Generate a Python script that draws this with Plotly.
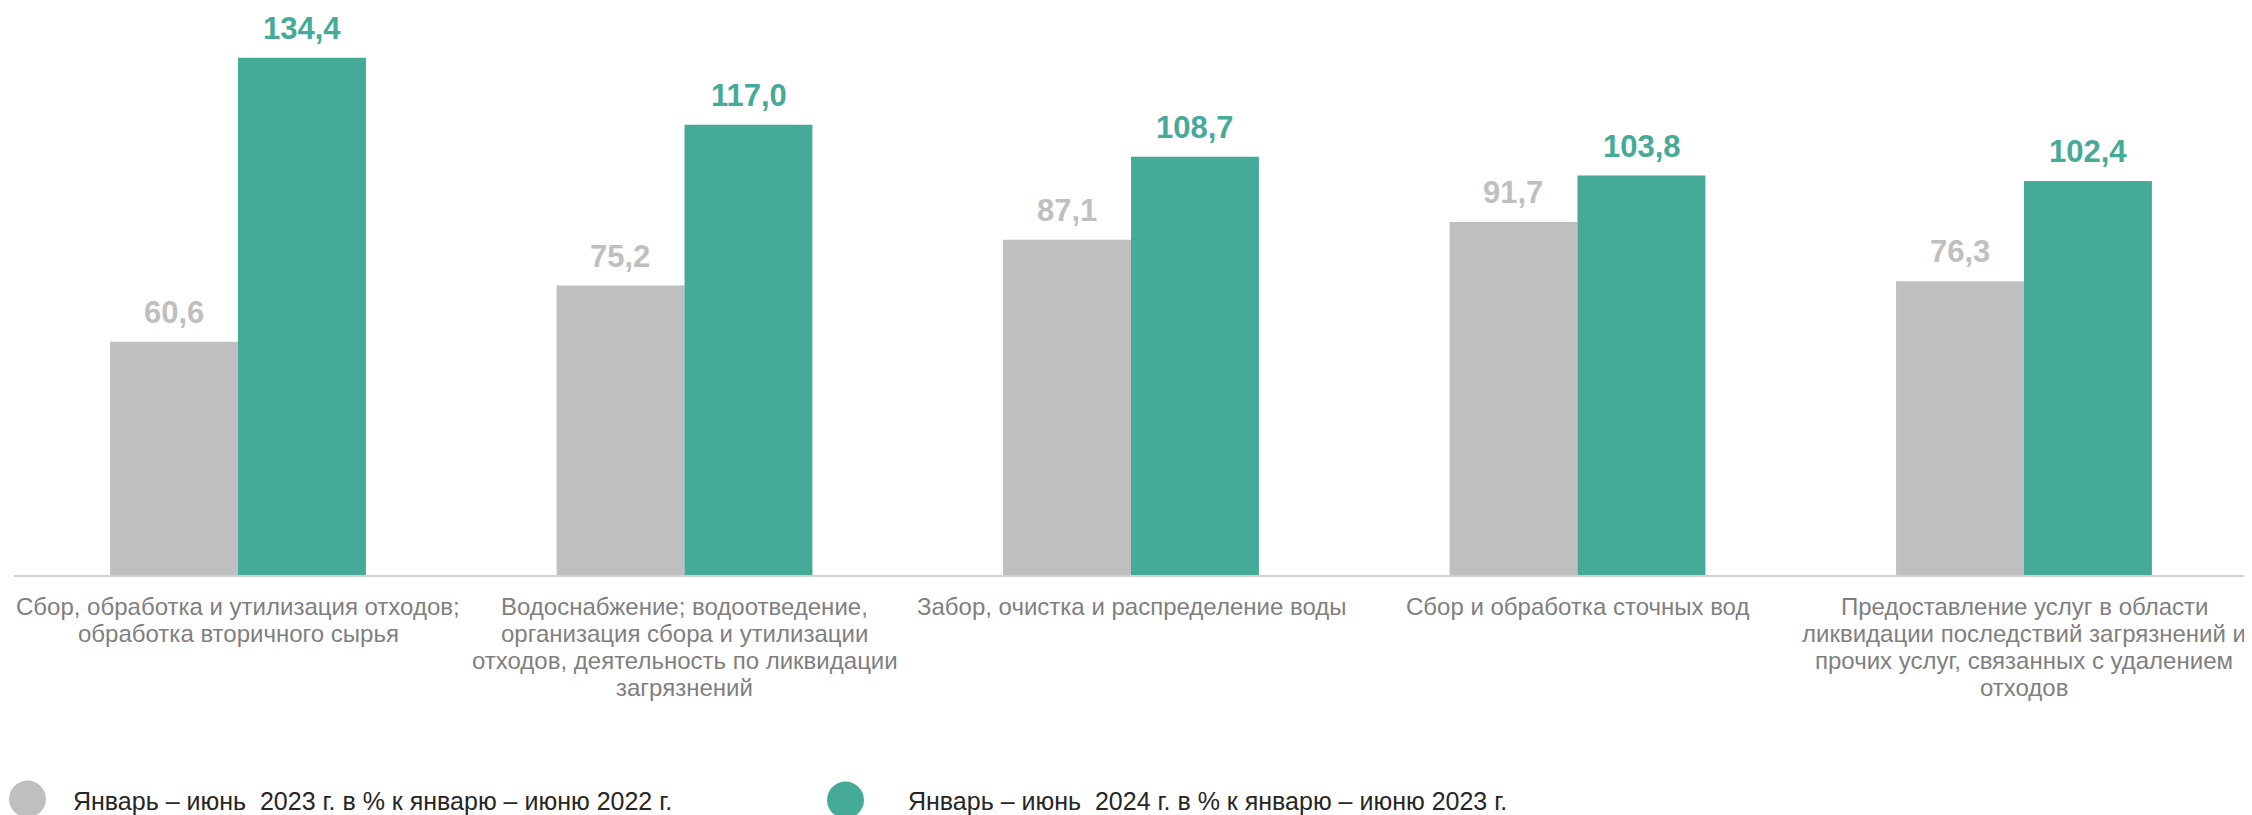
import plotly.graph_objects as go

categories = [
    "Сбор, обработка и утилизация отходов;<br>обработка вторичного сырья",
    "Водоснабжение; водоотведение,<br>организация сбора и утилизации<br>отходов, деятельность по ликвидации<br>загрязнений",
    "Забор, очистка и распределение воды",
    "Сбор и обработка сточных вод",
    "Предоставление услуг в области<br>ликвидации последствий загрязнений и<br>прочих услуг, связанных с удалением<br>отходов",
]
series_2023 = [60.6, 75.2, 87.1, 91.7, 76.3]
series_2024 = [134.4, 117.0, 108.7, 103.8, 102.4]
name_2023 = "Январь – июнь\u00a0 2023 г. в % к январю – июню 2022 г."
name_2024 = "Январь – июнь\u00a0 2024 г. в % к январю – июню 2023 г."

GRAY = "#BFBFBF"
GREEN = "#46AA98"
LABEL_GRAY = "#7F7F7F"
FONT = "Arial, Liberation Sans, sans-serif"

OFF = 8  # page body margin of the html page
W, H = 2252 - OFF, 815 - OFF
ML, MR, MT, MB = 6, 4, 2, 240
PW = W - ML - MR
PH = H - MT - MB
YMAX = 146.8
BARGAP = 0.427
CAT_FONT = 24
CAT_LINE = 27      # px between label lines
CAT_FIRST = 16     # px from axis to top of first label line

def fmt(v):
    return f"{v:.1f}".replace(".", ",")

fig = go.Figure()
fig.add_trace(go.Bar(x=categories, y=series_2023, name=name_2023,
                     marker=dict(color=GRAY, line=dict(width=0)), showlegend=False))
fig.add_trace(go.Bar(x=categories, y=series_2024, name=name_2024,
                     marker=dict(color=GREEN, line=dict(width=0)), showlegend=False))

cat_px = PW / len(categories)
bar_px = cat_px * (1 - BARGAP) / 2
annotations = []
for vals, color, sh in [(series_2023, GRAY, -bar_px / 2), (series_2024, GREEN, bar_px / 2)]:
    for c, v in zip(categories, vals):
        annotations.append(dict(x=c, y=v, xref="x", yref="y", text=fmt(v), showarrow=False,
                                xshift=sh, yshift=10, yanchor="bottom",
                                font=dict(family=FONT, size=31, color=color, weight="bold")))

# category labels, one text per line for tighter line spacing
for c in categories:
    for k, line in enumerate(c.split("<br>")):
        annotations.append(dict(x=c, y=0, xref="x", yref="y", text=line, showarrow=False,
                                yanchor="top", yshift=-(CAT_FIRST + k * CAT_LINE),
                                font=dict(family=FONT, size=CAT_FONT, color=LABEL_GRAY)))

def px2paper(px, py):
    # px, py are page pixel positions
    fx, fy = px - OFF, py - OFF
    return (fx - ML) / PW, (MT + PH - fy) / PH

shapes = []
for (cx, cy), color, (tx, ty), txt in [((27.5, 799), GRAY, (71, 801), name_2023),
                                       ((845.5, 800), GREEN, (906, 801), name_2024)]:
    xa, ya = px2paper(cx, cy)
    shapes.append(dict(type="circle", xref="paper", yref="paper", xsizemode="pixel", ysizemode="pixel",
                       xanchor=xa, yanchor=ya, x0=-18.5, x1=18.5, y0=-18.5, y1=18.5,
                       fillcolor=color, line=dict(width=0)))
    txa, tya = px2paper(tx, ty)
    annotations.append(dict(x=txa, y=tya, xref="paper", yref="paper", text=txt, showarrow=False,
                            xanchor="left", yanchor="middle",
                            font=dict(family=FONT, size=25, color="#262626")))

fig.update_layout(
    width=W, height=H,
    margin=dict(l=ML, r=MR, t=MT, b=MB),
    paper_bgcolor="white", plot_bgcolor="white",
    barmode="group", bargap=BARGAP, bargroupgap=0,
    showlegend=False,
    annotations=annotations, shapes=shapes,
    xaxis=dict(showline=True, linecolor="#D0D0D0", linewidth=2, ticks="", showgrid=False,
               showticklabels=False),
    yaxis=dict(range=[0, YMAX], visible=False, showgrid=False, zeroline=False),
    font=dict(family=FONT),
)

fig.write_html("out.html")
